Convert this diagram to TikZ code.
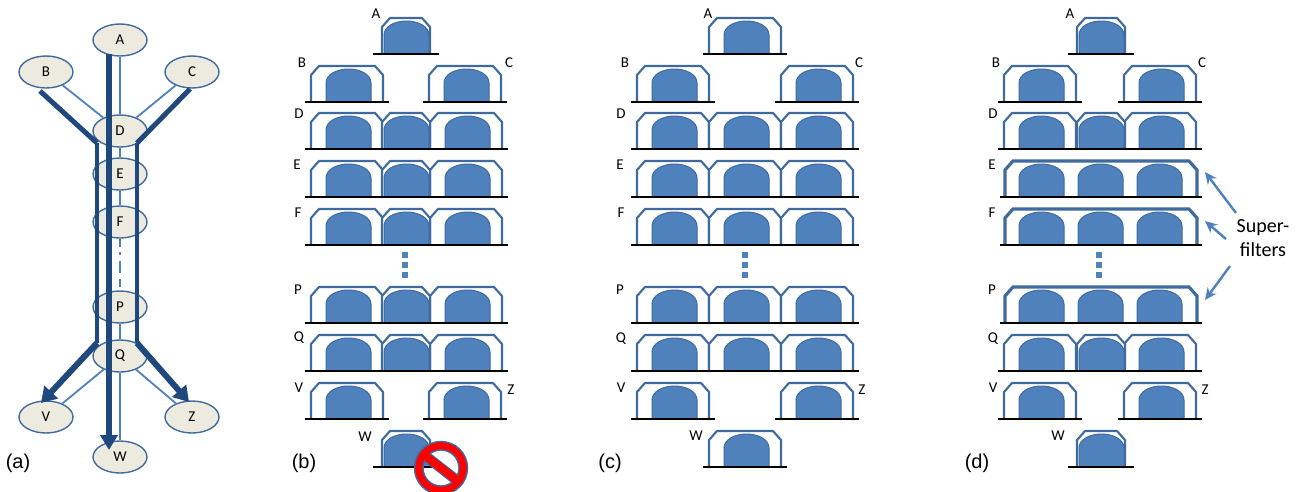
\documentclass[tikz,border=0pt]{standalone}
\usepackage{fontspec}
\setmainfont{Carlito}
\newfontfamily\arialfont{Liberation Sans}
\usepackage{xcolor}
\usetikzlibrary{arrows.meta,shapes.geometric}

\definecolor{outlineblue}{HTML}{3F6A9C}
\definecolor{domeblue}{HTML}{4F81BD}
\definecolor{pathblue}{HTML}{1F497D}
\definecolor{nodegrey}{HTML}{EDEBE0}

\tikzset{
  gnode/.style={ellipse,draw=outlineblue,line width=1.4pt,fill=nodegrey,minimum width=54pt,minimum height=32pt,inner sep=0pt,font=\fontsize{15}{15}\selectfont},
  thinedge/.style={draw=domeblue,line width=1.8pt},
  thickedge/.style={draw=pathblue,line width=4.4pt},
  bigarrow/.style={line width=6pt,-{Triangle[length=15pt,width=18pt]}},
  shell/.style={draw=outlineblue,line width=2.1pt,fill=white},
  supershell/.style={draw=outlineblue,line width=3.2pt,fill=white},
  dome/.style={draw=outlineblue,line width=1pt,fill=domeblue},
  baseline/.style={draw=black,line width=2.6pt},
  dotmark/.style={fill=domeblue},
  letter/.style={font=\fontsize{15}{15}\selectfont,inner sep=0pt},
  panel/.style={font=\arialfont\fontsize{20}{20}\selectfont,inner sep=0pt},
  callout/.style={draw=domeblue,line width=2.4pt,-{Stealth[length=12pt,width=11pt]}},
}

% chamfered shell: left, right, top
\newcommand{\shellpath}[4][shell]{
  \draw[#1] (#2,#4+36) -- (#2,#4+9) -- (#2+8,#4) -- (#3-8,#4) -- (#3,#4+9) -- (#3,#4+36);
}
% dome: left, top
\newcommand{\domeat}[2]{
  \draw[dome] (#1,#2+36) -- (#1,#2+17) .. controls (#1,#2+9) and (#1+10,#2+3) .. (#1+22.5,#2+3) .. controls (#1+35,#2+3) and (#1+45,#2+9) .. (#1+45,#2+17) -- (#1+45,#2+36) -- cycle;
}
% wide filter: left, top
\newcommand{\widefilter}[2]{
  \shellpath{#1}{#1+72}{#2}
  \domeat{#1+15}{#2}
  \draw[baseline] (#1-6,#2+36) -- (#1+78,#2+36);
}
% narrow filter: left, top
\newcommand{\narrowfilter}[2]{
  \shellpath{#1}{#1+48}{#2}
  \domeat{#1+2}{#2}
  \draw[baseline] (#1-9,#2+36) -- (#1+57,#2+36);
}
% super filter: left, top
\newcommand{\superfilter}[2]{
  \shellpath[supershell]{#1}{#1+192}{#2}
  \domeat{#1+14}{#2}
  \domeat{#1+73}{#2}
  \domeat{#1+132}{#2}
  \draw[baseline] (#1-5,#2+36) -- (#1+197,#2+36);
}

\begin{document}
\begin{tikzpicture}[x=1pt,y=-1pt]
  \useasboundingbox (0,0) rectangle (1304,491);

  % Graph of panel (a)
  \node[gnode] (A) at (120,40) {A};
  \node[gnode] (B) at (46,72) {B};
  \node[gnode] (C) at (192,72) {C};
  \node[gnode] (D) at (120,131) {D};
  \node[gnode] (E) at (120,174) {E};
  \node[gnode] (F) at (120,222) {F};
  \node[gnode] (P) at (120,307) {P};
  \node[gnode] (Q) at (120,356) {Q};
  \node[gnode] (V) at (46,417) {V};
  \node[gnode] (Z) at (192,417) {Z};
  \node[gnode] (W) at (120,457) {W};

  \draw[thinedge] (A) -- (D);
  \draw[thinedge] (B) -- (D);
  \draw[thinedge] (C) -- (D);
  \draw[thinedge] (D) -- (E);
  \draw[thinedge] (E) -- (F);
  \draw[thinedge,line width=2.6pt,dash pattern=on 8pt off 5pt on 3pt off 6pt on 12pt off 6pt] (F) -- (P);
  \draw[thinedge] (P) -- (Q);
  \draw[thinedge] (Q) -- (V);
  \draw[thinedge] (Q) -- (Z);
  \draw[thinedge] (Q) -- (W);

  % Paths through the graph
  \coordinate (bstart) at (40,91);
  \coordinate (lefttop) at (97,143);
  \coordinate (leftlow) at (97,343);
  \coordinate (vtip) at (41,403);
  \coordinate (cstart) at (190,89);
  \coordinate (righttop) at (137,143);
  \coordinate (rightlow) at (137,343);
  \coordinate (ztip) at (189,402);
  \coordinate (astart) at (109,54);
  \coordinate (wtip) at (109,450);
  \draw[thickedge,line width=5.4pt,-{Triangle[length=15pt,width=17pt]}] (astart) -- (wtip);
  \draw[thickedge,line width=5pt] (bstart) -- (lefttop);
  \draw[thickedge] (lefttop) -- (leftlow);
  \draw[thickedge,bigarrow] (leftlow) -- (vtip);
  \draw[thickedge,line width=5pt] (cstart) -- (righttop);
  \draw[thickedge] (righttop) -- (rightlow);
  \draw[thickedge,bigarrow] (rightlow) -- (ztip);

  % Panel (b)
  \narrowfilter{382}{18}
  \foreach \rowtop in {66,383} {
    \widefilter{311}{\rowtop}
    \widefilter{429}{\rowtop}
  }
  \foreach \rowtop in {113,161,209,287,335} {
    \widefilter{311}{\rowtop}
    \widefilter{430}{\rowtop}
    \narrowfilter{382}{\rowtop}
  }
  \narrowfilter{382}{431}

  % Panel (c)
  \widefilter{709}{18}
  \foreach \rowtop in {66,383} {
    \widefilter{637}{\rowtop}
    \widefilter{781}{\rowtop}
  }
  \foreach \rowtop in {113,161,209,287,335} {
    \widefilter{637}{\rowtop}
    \widefilter{709}{\rowtop}
    \widefilter{781}{\rowtop}
  }
  \widefilter{709}{431}

  % Panel (d)
  \narrowfilter{1077}{18}
  \foreach \rowtop in {66,383} {
    \widefilter{1004}{\rowtop}
    \widefilter{1124}{\rowtop}
  }
  \foreach \rowtop in {113,335} {
    \widefilter{1004}{\rowtop}
    \widefilter{1124}{\rowtop}
    \narrowfilter{1077}{\rowtop}
  }
  \foreach \rowtop in {161,209,287} {
    \superfilter{1005}{\rowtop}
  }
  \narrowfilter{1077}{431}

  % Dots between F and P
  \foreach \dotx in {405,745,1099} {
    \foreach \doty in {255,265,275} {
      \fill[dotmark] (\dotx-3,\doty-3) rectangle (\dotx+3,\doty+3);
    }
  }

  % No-entry sign
  \begin{scope}[shift={(441,468)}]
    \clip (-30,-30) rectangle (30,23);
    \draw[outlineblue,fill=red,line width=1.4pt,rotate=-38] (-22,-4.5) rectangle (22,4.5);
    \draw[outlineblue,fill=red,line width=1.4pt,even odd rule] (0,0) circle (26.5pt) (0,0) circle (18pt);
    \fill[red,rotate=-38] (-20,-4) rectangle (20,4);
  \end{scope}

  % Filter letters
  \foreach \lab/\lx/\ly in {A/376/14,B/302/63,C/509/63,D/299/114,E/297/165,F/298/213,P/298/290,Q/299/338,V/299/388,Z/511/390,W/365/437,
    A/708/14,B/625/63,C/859/63,D/621/114,E/620/165,F/621/213,P/620/290,Q/621/339,V/621/388,Z/862/390,W/696/436,
    A/1070/14,B/996/63,C/1202/63,D/993/114,E/992/165,F/992/213,P/992/290,Q/993/339,V/993/388,Z/1205/390,W/1058/436} {
    \node[letter] at (\lx,\ly) {\lab};
  }

  % Panel labels
  \node[panel] (laba) at (18,463) {(a)};
  \node[panel] (labb) at (304,463) {(b)};
  \node[panel] (labc) at (610,463) {(c)};
  \node[panel] (labd) at (977,463) {(d)};

  % Callout
  \node[align=center,inner sep=0pt,font=\fontsize{20}{24}\selectfont] (superlab) at (1263,238) {Super-\\filters};
  \coordinate (etail) at (1236,213);
  \coordinate (etip) at (1205,172);
  \coordinate (ftail) at (1226,239);
  \coordinate (ftip) at (1205,221);
  \coordinate (ptail) at (1230,266);
  \coordinate (ptip) at (1205,300);
  \draw[callout] (etail) -- (etip);
  \draw[callout] (ftail) -- (ftip);
  \draw[callout] (ptail) -- (ptip);
\end{tikzpicture}
\end{document}
